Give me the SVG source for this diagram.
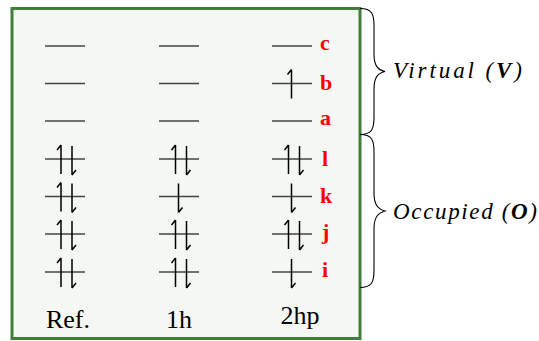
<svg xmlns="http://www.w3.org/2000/svg" width="539" height="341" viewBox="0 0 539 341">
<defs>
<style>
.lvl{stroke:#444;stroke-width:1.3;fill:none}
.arr{stroke:#000;stroke-width:1.5;fill:none;stroke-linecap:butt}
.lab{font-family:'Liberation Serif','Times New Roman','DejaVu Serif',serif;font-weight:bold;font-size:22px;fill:#ff0000}
.col{font-family:'Liberation Serif','Times New Roman','DejaVu Serif',serif;font-size:26px;fill:#000;text-anchor:middle}
.brace{stroke:#000;stroke-width:1.1;fill:none}
.sp{font-family:'Liberation Serif','Times New Roman','DejaVu Serif',serif;font-style:italic;font-size:23px;fill:#000}
</style>
<g id="lv"><path class="lvl" d="M-20,0H20"/></g>
<g id="up"><path class="arr" d="M0,15V-14M0,-14l-4,5"/></g>
<g id="dn"><path class="arr" d="M0,-13V16M0,16l4,-5"/></g>
</defs>
<rect width="539" height="341" fill="#ffffff"/>
<g id="box"><rect x="12" y="8.5" width="348" height="330" fill="#f5f7f4" stroke="#3f7f37" stroke-width="3"/></g>

<g id="col-ref">
<use href="#lv" x="65" y="46"/><use href="#lv" x="65" y="83.5"/><use href="#lv" x="65" y="121"/>
<use href="#lv" x="65" y="159"/><use href="#up" x="61" y="159"/><use href="#dn" x="72" y="159"/>
<use href="#lv" x="65" y="196.5"/><use href="#up" x="61" y="196.5"/><use href="#dn" x="72" y="196.5"/>
<use href="#lv" x="65" y="234"/><use href="#up" x="61" y="234"/><use href="#dn" x="72" y="234"/>
<use href="#lv" x="65" y="272"/><use href="#up" x="61" y="272"/><use href="#dn" x="72" y="272"/>
<text class="col" x="68" y="328">Ref.</text>
</g>

<g id="col-1h">
<use href="#lv" x="179" y="46"/><use href="#lv" x="179" y="83.5"/><use href="#lv" x="179" y="121"/>
<use href="#lv" x="179" y="159"/><use href="#up" x="175.5" y="159"/><use href="#dn" x="186.5" y="159"/>
<use href="#lv" x="179" y="196.5"/><use href="#dn" x="178.5" y="196.5"/>
<use href="#lv" x="179" y="234"/><use href="#up" x="175.5" y="234"/><use href="#dn" x="186.5" y="234"/>
<use href="#lv" x="179" y="272"/><use href="#up" x="175.5" y="272"/><use href="#dn" x="186.5" y="272"/>
<text class="col" x="179" y="328">1h</text>
</g>

<g id="col-2hp">
<use href="#lv" x="292" y="46"/>
<use href="#lv" x="292" y="83.5"/><use href="#up" x="291.5" y="83.5"/>
<use href="#lv" x="292" y="121"/>
<use href="#lv" x="292" y="159"/><use href="#up" x="288.5" y="159"/><use href="#dn" x="299.5" y="159"/>
<use href="#lv" x="292" y="196.5"/><use href="#dn" x="291.5" y="196.5"/>
<use href="#lv" x="292" y="234"/><use href="#up" x="288.5" y="234"/><use href="#dn" x="299.5" y="234"/>
<use href="#lv" x="292" y="272"/><use href="#dn" x="291.5" y="272"/>
<text class="col" x="300" y="324">2hp</text>
</g>

<g id="labels">
<text class="lab" x="320" y="50">c</text>
<text class="lab" x="320" y="90">b</text>
<text class="lab" x="320" y="125">a</text>
<text class="lab" x="322" y="165.5">l</text>
<text class="lab" x="320" y="203">k</text>
<text class="lab" x="322" y="239">j</text>
<text class="lab" x="322" y="277">i</text>
</g>

<g id="connectors">
<path class="brace" d="M360,8.5 C372,8.5 374,14 374,26 L374,54 C374,66 378,70 385,71.5 C378,73 374,77 374,89 L374,117 C374,129 372,134.5 360,134.5"/>
<path class="brace" d="M360,134.5 C372,134.5 374,140 374,152 L374,193 C374,205 378,209 385,211 C378,213 374,217 374,229 L374,270 C374,282 372,287.5 360,287.5"/>
</g>

<g id="virtual"><text class="sp" x="393" y="78" textLength="129" lengthAdjust="spacing">Virtual (<tspan font-weight="bold">V</tspan>)</text></g>
<g id="occupied"><text class="sp" x="393" y="219" textLength="144" lengthAdjust="spacing">Occupied (<tspan font-weight="bold">O</tspan>)</text></g>
</svg>
